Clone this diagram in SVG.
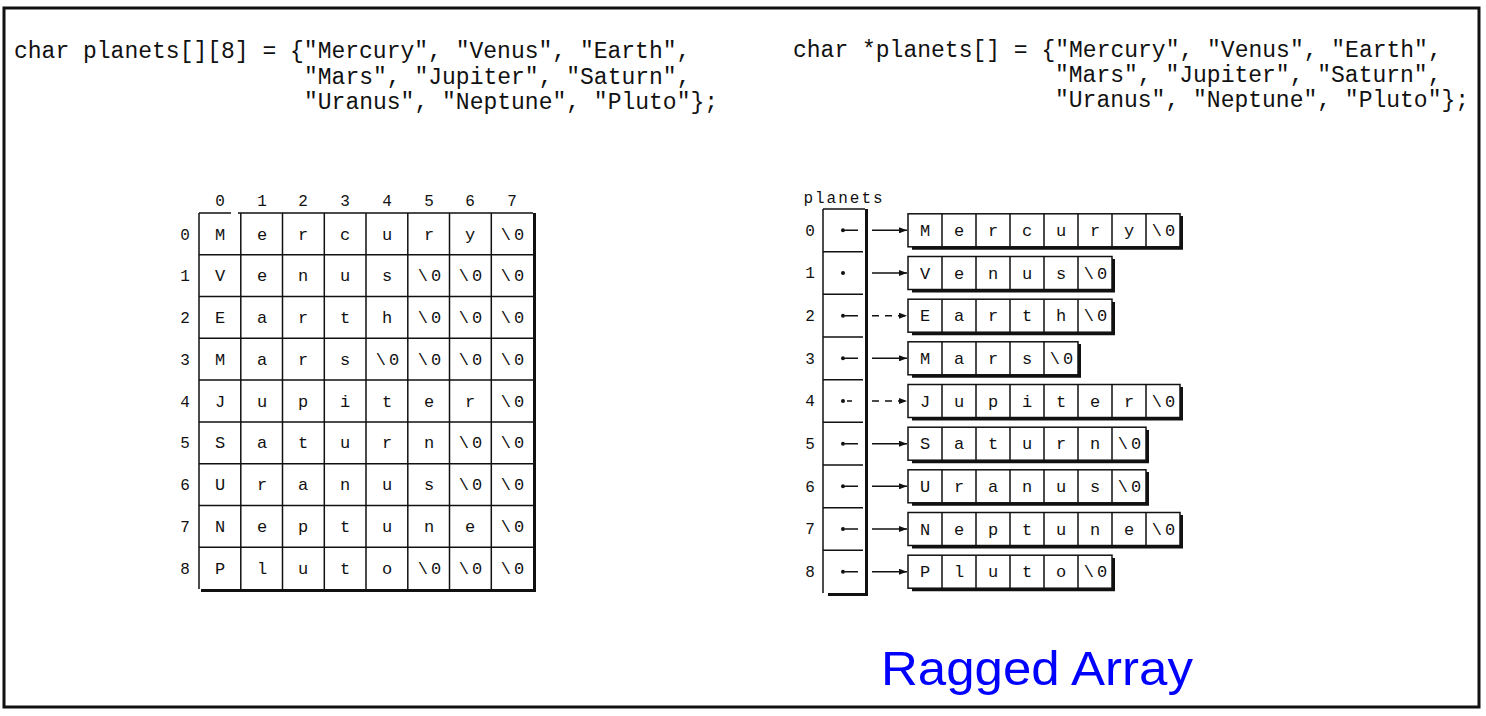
<svg xmlns="http://www.w3.org/2000/svg" width="1486" height="716" viewBox="0 0 1486 716">
<style>
.code{font-family:"Liberation Mono","DejaVu Sans Mono",monospace;font-size:23px;fill:#111}
.c{font-family:"Liberation Mono","DejaVu Sans Mono",monospace;font-size:17px;fill:#111;text-anchor:middle}
.n{font-family:"Liberation Mono","DejaVu Sans Mono",monospace;font-size:17px;fill:#111;text-anchor:middle;letter-spacing:3px}
.lbl{font-family:"Liberation Mono","DejaVu Sans Mono",monospace;font-size:16px;fill:#111;text-anchor:middle}
.ln{stroke:#111;stroke-width:1.5;fill:none}
.sh{stroke:#111;stroke-width:3;fill:none}
.box{fill:#fff;stroke:#111;stroke-width:1.5}
.ar{stroke:#111;stroke-width:1.5;fill:none}
.dash{stroke-dasharray:7 6}
</style>
<defs>
<marker id="ah" markerUnits="userSpaceOnUse" viewBox="0 0 8 6" refX="8" refY="3" markerWidth="8" markerHeight="6" orient="auto"><path d="M0,0 L8,3 L0,6 Z" fill="#111"/></marker>
</defs>
<rect x="4" y="8" width="1475" height="699" fill="#fff" stroke="#111" stroke-width="3"/>

<g id="code-left">
<text class="code" x="14" y="58">char planets[][8] = {"Mercury", "Venus", "Earth",</text>
<text class="code" x="304" y="84">"Mars", "Jupiter", "Saturn",</text>
<text class="code" x="304" y="109">"Uranus", "Neptune", "Pluto"};</text>
</g>
<g id="code-right">
<text class="code" x="793" y="57">char *planets[] = {"Mercury", "Venus", "Earth",</text>
<text class="code" x="1055" y="82">"Mars", "Jupiter", "Saturn",</text>
<text class="code" x="1055" y="107">"Uranus", "Neptune", "Pluto"};</text>
</g>

<g id="grid-2d">
<rect x="199" y="213" width="334" height="376" fill="#fff"/>
<path class="ln" d="M199,213 H231 M238,213 H533 M199,213 V589 M199,254.8 H533 M199,296.6 H533 M199,338.3 H533 M199,380.1 H533 M199,421.9 H533 M199,463.7 H533 M199,505.4 H533 M199,547.2 H533 M240.8,213 V589 M282.5,213 V589 M324.3,213 V589 M366,213 V589 M407.8,213 V589 M449.5,213 V589 M491.3,213 V589"/>
<path class="sh" d="M534.5,213 V591 M201,590.5 H536"/>
<g class="lbl">
<text x="220" y="206">0</text><text x="262" y="206">1</text><text x="303" y="206">2</text><text x="345" y="206">3</text><text x="387" y="206">4</text><text x="429" y="206">5</text><text x="470" y="206">6</text><text x="512" y="206">7</text>
<text x="185" y="240">0</text><text x="185" y="281">1</text><text x="185" y="323">2</text><text x="185" y="365">3</text><text x="185" y="407">4</text><text x="185" y="448">5</text><text x="185" y="490">6</text><text x="185" y="532">7</text><text x="185" y="574">8</text>
</g>
<g>
<text class="c" x="220" y="240">M</text><text class="c" x="262" y="240">e</text><text class="c" x="303" y="240">r</text><text class="c" x="345" y="240">c</text><text class="c" x="387" y="240">u</text><text class="c" x="429" y="240">r</text><text class="c" x="470" y="240">y</text><text class="n" x="514" y="240">\0</text>
<text class="c" x="220" y="281">V</text><text class="c" x="262" y="281">e</text><text class="c" x="303" y="281">n</text><text class="c" x="345" y="281">u</text><text class="c" x="387" y="281">s</text><text class="n" x="431" y="281">\0</text><text class="n" x="472" y="281">\0</text><text class="n" x="514" y="281">\0</text>
<text class="c" x="220" y="323">E</text><text class="c" x="262" y="323">a</text><text class="c" x="303" y="323">r</text><text class="c" x="345" y="323">t</text><text class="c" x="387" y="323">h</text><text class="n" x="431" y="323">\0</text><text class="n" x="472" y="323">\0</text><text class="n" x="514" y="323">\0</text>
<text class="c" x="220" y="365">M</text><text class="c" x="262" y="365">a</text><text class="c" x="303" y="365">r</text><text class="c" x="345" y="365">s</text><text class="n" x="389" y="365">\0</text><text class="n" x="431" y="365">\0</text><text class="n" x="472" y="365">\0</text><text class="n" x="514" y="365">\0</text>
<text class="c" x="220" y="407">J</text><text class="c" x="262" y="407">u</text><text class="c" x="303" y="407">p</text><text class="c" x="345" y="407">i</text><text class="c" x="387" y="407">t</text><text class="c" x="429" y="407">e</text><text class="c" x="470" y="407">r</text><text class="n" x="514" y="407">\0</text>
<text class="c" x="220" y="448">S</text><text class="c" x="262" y="448">a</text><text class="c" x="303" y="448">t</text><text class="c" x="345" y="448">u</text><text class="c" x="387" y="448">r</text><text class="c" x="429" y="448">n</text><text class="n" x="472" y="448">\0</text><text class="n" x="514" y="448">\0</text>
<text class="c" x="220" y="490">U</text><text class="c" x="262" y="490">r</text><text class="c" x="303" y="490">a</text><text class="c" x="345" y="490">n</text><text class="c" x="387" y="490">u</text><text class="c" x="429" y="490">s</text><text class="n" x="472" y="490">\0</text><text class="n" x="514" y="490">\0</text>
<text class="c" x="220" y="532">N</text><text class="c" x="262" y="532">e</text><text class="c" x="303" y="532">p</text><text class="c" x="345" y="532">t</text><text class="c" x="387" y="532">u</text><text class="c" x="429" y="532">n</text><text class="c" x="470" y="532">e</text><text class="n" x="514" y="532">\0</text>
<text class="c" x="220" y="574">P</text><text class="c" x="262" y="574">l</text><text class="c" x="303" y="574">u</text><text class="c" x="345" y="574">t</text><text class="c" x="387" y="574">o</text><text class="n" x="431" y="574">\0</text><text class="n" x="472" y="574">\0</text><text class="n" x="514" y="574">\0</text>
</g>
</g>

<g id="pointer-array">
<text class="lbl" x="844" y="203" style="letter-spacing:2px">planets</text>
<rect x="823" y="209" width="42" height="384" fill="#fff"/>
<path class="ln" d="M823,209 H865 M823,209 V593 M823,251.7 H863 M823,294.3 H863 M823,337 H863 M823,379.7 H863 M823,422.3 H863 M823,465 H863 M823,507.7 H863 M823,550.3 H863"/>
<path class="sh" d="M866.5,209 V596 M828,594.5 H868"/>
<g class="lbl">
<text x="810" y="236">0</text><text x="810" y="278">1</text><text x="810" y="321">2</text><text x="810" y="364">3</text><text x="810" y="406">4</text><text x="810" y="449">5</text><text x="810" y="492">6</text><text x="810" y="534">7</text><text x="810" y="577">8</text>
</g>
<g fill="#111">
<circle cx="843" cy="230.3" r="2"/><circle cx="843" cy="273" r="2"/><circle cx="843" cy="315.7" r="2"/><circle cx="843" cy="358.3" r="2"/><circle cx="843" cy="401" r="2"/><circle cx="843" cy="443.7" r="2"/><circle cx="843" cy="486.3" r="2"/><circle cx="843" cy="529" r="2"/><circle cx="843" cy="571.7" r="2"/>
</g>
</g>

<g id="connectors">
<path class="ar" d="M845,230.3 H858 M845,315.7 H858 M845,358.3 H858 M847,401 H852 M845,443.7 H858 M845,486.3 H858 M845,529 H858 M845,571.7 H858"/>
<line class="ar" x1="872" y1="230.3" x2="907" y2="230.3" marker-end="url(#ah)"/>
<line class="ar" x1="872" y1="273" x2="907" y2="273" marker-end="url(#ah)"/>
<line class="ar dash" x1="872" y1="315.7" x2="907" y2="315.7" marker-end="url(#ah)"/>
<line class="ar" x1="872" y1="358.3" x2="907" y2="358.3" marker-end="url(#ah)"/>
<line class="ar dash" x1="872" y1="401" x2="907" y2="401" marker-end="url(#ah)"/>
<line class="ar" x1="872" y1="443.7" x2="907" y2="443.7" marker-end="url(#ah)"/>
<line class="ar" x1="872" y1="486.3" x2="907" y2="486.3" marker-end="url(#ah)"/>
<line class="ar" x1="872" y1="529" x2="907" y2="529" marker-end="url(#ah)"/>
<line class="ar" x1="872" y1="571.7" x2="907" y2="571.7" marker-end="url(#ah)"/>
</g>

<g id="str-0">
<rect class="box" x="908" y="213.8" width="272" height="33"/>
<path class="ln" d="M942,213.8 v33 M976,213.8 v33 M1010,213.8 v33 M1044,213.8 v33 M1078,213.8 v33 M1112,213.8 v33 M1146,213.8 v33"/>
<path class="sh" d="M1181.5,216 V249 M912,248.3 H1183"/>
<text class="c" x="925" y="236">M</text><text class="c" x="959" y="236">e</text><text class="c" x="993" y="236">r</text><text class="c" x="1027" y="236">c</text><text class="c" x="1061" y="236">u</text><text class="c" x="1095" y="236">r</text><text class="c" x="1129" y="236">y</text><text class="n" x="1165" y="236">\0</text>
</g>
<g id="str-1">
<rect class="box" x="908" y="256.5" width="204" height="33"/>
<path class="ln" d="M942,256.5 v33 M976,256.5 v33 M1010,256.5 v33 M1044,256.5 v33 M1078,256.5 v33"/>
<path class="sh" d="M1113.5,259 V292 M912,291 H1115"/>
<text class="c" x="925" y="279">V</text><text class="c" x="959" y="279">e</text><text class="c" x="993" y="279">n</text><text class="c" x="1027" y="279">u</text><text class="c" x="1061" y="279">s</text><text class="n" x="1097" y="279">\0</text>
</g>
<g id="str-2">
<rect class="box" x="908" y="299.2" width="204" height="33"/>
<path class="ln" d="M942,299.2 v33 M976,299.2 v33 M1010,299.2 v33 M1044,299.2 v33 M1078,299.2 v33"/>
<path class="sh" d="M1113.5,302 V335 M912,333.7 H1115"/>
<text class="c" x="925" y="321">E</text><text class="c" x="959" y="321">a</text><text class="c" x="993" y="321">r</text><text class="c" x="1027" y="321">t</text><text class="c" x="1061" y="321">h</text><text class="n" x="1097" y="321">\0</text>
</g>
<g id="str-3">
<rect class="box" x="908" y="341.8" width="170" height="33"/>
<path class="ln" d="M942,341.8 v33 M976,341.8 v33 M1010,341.8 v33 M1044,341.8 v33"/>
<path class="sh" d="M1079.5,344 V377 M912,376.3 H1081"/>
<text class="c" x="925" y="364">M</text><text class="c" x="959" y="364">a</text><text class="c" x="993" y="364">r</text><text class="c" x="1027" y="364">s</text><text class="n" x="1063" y="364">\0</text>
</g>
<g id="str-4">
<rect class="box" x="908" y="384.5" width="272" height="33"/>
<path class="ln" d="M942,384.5 v33 M976,384.5 v33 M1010,384.5 v33 M1044,384.5 v33 M1078,384.5 v33 M1112,384.5 v33 M1146,384.5 v33"/>
<path class="sh" d="M1181.5,387 V420 M912,419 H1183"/>
<text class="c" x="925" y="407">J</text><text class="c" x="959" y="407">u</text><text class="c" x="993" y="407">p</text><text class="c" x="1027" y="407">i</text><text class="c" x="1061" y="407">t</text><text class="c" x="1095" y="407">e</text><text class="c" x="1129" y="407">r</text><text class="n" x="1165" y="407">\0</text>
</g>
<g id="str-5">
<rect class="box" x="908" y="427.2" width="238" height="33"/>
<path class="ln" d="M942,427.2 v33 M976,427.2 v33 M1010,427.2 v33 M1044,427.2 v33 M1078,427.2 v33 M1112,427.2 v33"/>
<path class="sh" d="M1147.5,430 V463 M912,461.7 H1149"/>
<text class="c" x="925" y="449">S</text><text class="c" x="959" y="449">a</text><text class="c" x="993" y="449">t</text><text class="c" x="1027" y="449">u</text><text class="c" x="1061" y="449">r</text><text class="c" x="1095" y="449">n</text><text class="n" x="1131" y="449">\0</text>
</g>
<g id="str-6">
<rect class="box" x="908" y="469.8" width="238" height="33"/>
<path class="ln" d="M942,469.8 v33 M976,469.8 v33 M1010,469.8 v33 M1044,469.8 v33 M1078,469.8 v33 M1112,469.8 v33"/>
<path class="sh" d="M1147.5,472 V505 M912,504.3 H1149"/>
<text class="c" x="925" y="492">U</text><text class="c" x="959" y="492">r</text><text class="c" x="993" y="492">a</text><text class="c" x="1027" y="492">n</text><text class="c" x="1061" y="492">u</text><text class="c" x="1095" y="492">s</text><text class="n" x="1131" y="492">\0</text>
</g>
<g id="str-7">
<rect class="box" x="908" y="512.5" width="272" height="33"/>
<path class="ln" d="M942,512.5 v33 M976,512.5 v33 M1010,512.5 v33 M1044,512.5 v33 M1078,512.5 v33 M1112,512.5 v33 M1146,512.5 v33"/>
<path class="sh" d="M1181.5,515 V548 M912,547 H1183"/>
<text class="c" x="925" y="535">N</text><text class="c" x="959" y="535">e</text><text class="c" x="993" y="535">p</text><text class="c" x="1027" y="535">t</text><text class="c" x="1061" y="535">u</text><text class="c" x="1095" y="535">n</text><text class="c" x="1129" y="535">e</text><text class="n" x="1165" y="535">\0</text>
</g>
<g id="str-8">
<rect class="box" x="908" y="555.2" width="204" height="33"/>
<path class="ln" d="M942,555.2 v33 M976,555.2 v33 M1010,555.2 v33 M1044,555.2 v33 M1078,555.2 v33"/>
<path class="sh" d="M1113.5,558 V591 M912,589.7 H1115"/>
<text class="c" x="925" y="577">P</text><text class="c" x="959" y="577">l</text><text class="c" x="993" y="577">u</text><text class="c" x="1027" y="577">t</text><text class="c" x="1061" y="577">o</text><text class="n" x="1097" y="577">\0</text>
</g>

<g id="title">
<text x="881" y="685" font-family="'Liberation Sans',Arial,sans-serif" font-size="48" fill="#0000ff" textLength="312" lengthAdjust="spacingAndGlyphs">Ragged Array</text>
</g>
</svg>
